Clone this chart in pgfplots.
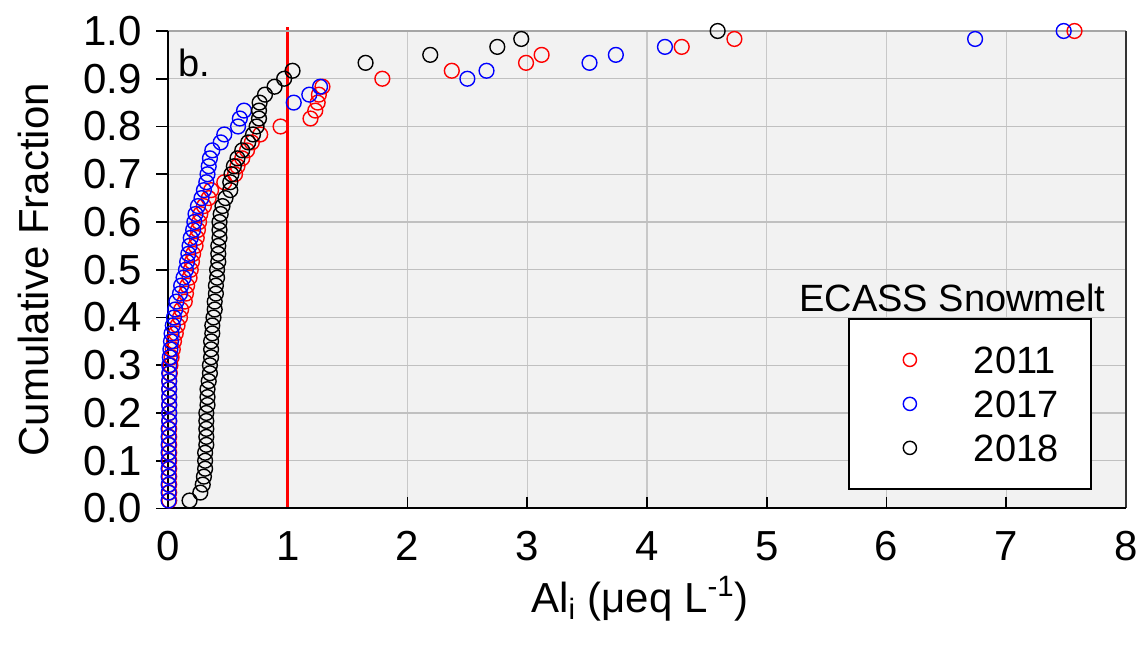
\documentclass[border=0pt]{standalone}
\usepackage{fontspec}
\setmainfont{Liberation Sans}
\usepackage{pgfplots}
\pgfplotsset{compat=1.18}
\definecolor{bgc}{RGB}{242,242,242}
\definecolor{gridc}{RGB}{192,192,192}
\definecolor{vgridc}{RGB}{200,200,200}
\begin{document}
\begin{tikzpicture}
\path[use as bounding box] (-84pt,-68.75pt) rectangle (486pt,254.25pt);
\begin{axis}[
  scale only axis, width=479pt, height=238.75pt, at={(0pt,0pt)}, anchor=south west,
  xmin=0, xmax=8, ymin=0, ymax=1,
  xtick={0,1,2,3,4,5,6,7,8},
  ytick={0,0.1,0.2,0.3,0.4,0.5,0.6,0.7,0.8,0.9,1},
  yticklabel style={xshift=-3.7pt, /pgf/number format/fixed, /pgf/number format/fixed zerofill, /pgf/number format/precision=1},
  /pgf/number format/assume math mode=true,
  tick label style={font=\fontsize{21}{25}\selectfont},
  xticklabel style={yshift=-2pt},
  label style={font=\fontsize{21}{25}\selectfont},
  axis background/.style={fill=bgc},
  grid=major, major grid style={gridc, line width=0.65pt},
  x grid style={vgridc, line width=0.65pt},
  axis line style={draw=none},
  tick align=outside, major tick length=5.8pt,
  xtick pos=lower, ytick pos=left,
  tick style={black, line width=0.9pt},
  xtick style={yshift=5.8pt},
  clip=false,
  ylabel={Cumulative Fraction},
  ylabel style={at={(axis description cs:-0.1409,0.5)}, anchor=center},
  xlabel={Al\textsubscript{i} (μeq L\textsuperscript{-1})},
  xlabel style={at={(axis description cs:0.4927,-0.2168)}, anchor=base},
  legend image code/.code={\path[draw=none, fill=none] (-30.5pt,-11pt) rectangle (32pt,11pt); \draw[#1, mark size=3.3pt] plot coordinates {(0pt,0pt)};},
  legend style={at={(rel axis cs:0.7098,0.3990)}, anchor=north west, draw=black, line width=0.9pt, fill=white,
    inner xsep=0pt, inner ysep=9.5pt, column sep=0pt, row sep=0pt, cells={anchor=center},
    nodes={inner sep=0pt, text depth=0pt, text width=58.5pt, align=left, font=\fontsize{19}{22}\selectfont}},
]
\addplot[only marks, mark=o, mark size=3.7pt, color=red, mark options={line width=0.7pt}] table {
x y
0.01 0.0167
0.01 0.0333
0.01 0.05
0.01 0.0667
0.01 0.0833
0.01 0.1
0.01 0.1167
0.01 0.1333
0.01 0.15
0.01 0.1667
0.01 0.1833
0.01 0.2
0.01 0.2167
0.01 0.2333
0.01 0.25
0.01 0.2667
0.015 0.2833
0.02 0.3
0.03 0.3167
0.04 0.3333
0.05 0.35
0.065 0.3667
0.08 0.3833
0.10 0.4
0.11 0.4167
0.14 0.4333
0.15 0.45
0.16 0.4667
0.18 0.4833
0.19 0.5
0.20 0.5167
0.21 0.5333
0.23 0.55
0.24 0.5667
0.25 0.5833
0.26 0.6
0.27 0.6167
0.30 0.6333
0.34 0.65
0.36 0.6667
0.47 0.6833
0.56 0.7
0.58 0.7167
0.62 0.7333
0.66 0.75
0.70 0.7667
0.77 0.7833
0.94 0.8
1.19 0.8167
1.23 0.8333
1.25 0.85
1.26 0.8667
1.29 0.8833
1.79 0.9
2.37 0.9167
2.99 0.9333
3.12 0.95
4.29 0.9667
4.73 0.9833
7.57 1
};
\addlegendentry{2011}
\addplot[only marks, mark=o, mark size=3.7pt, color=blue, mark options={line width=0.7pt}] table {
x y
0.005 0.0167
0.005 0.0333
0.005 0.05
0.005 0.0667
0.005 0.0833
0.005 0.1
0.005 0.1167
0.005 0.1333
0.005 0.15
0.005 0.1667
0.01 0.1833
0.01 0.2
0.01 0.2167
0.01 0.2333
0.01 0.25
0.01 0.2667
0.01 0.2833
0.01 0.3
0.015 0.3167
0.02 0.3333
0.025 0.35
0.03 0.3667
0.04 0.3833
0.05 0.4
0.06 0.4167
0.07 0.4333
0.10 0.45
0.11 0.4667
0.13 0.4833
0.15 0.5
0.16 0.5167
0.17 0.5333
0.18 0.55
0.19 0.5667
0.21 0.5833
0.22 0.6
0.23 0.6167
0.25 0.6333
0.28 0.65
0.30 0.6667
0.32 0.6833
0.33 0.7
0.34 0.7167
0.35 0.7333
0.37 0.75
0.44 0.7667
0.47 0.7833
0.585 0.8
0.60 0.8167
0.635 0.8333
1.05 0.85
1.18 0.8667
1.27 0.8833
2.50 0.9
2.66 0.9167
3.52 0.9333
3.74 0.95
4.15 0.9667
6.74 0.9833
7.48 1
};
\addlegendentry{2017}
\addplot[only marks, mark=o, mark size=3.7pt, color=black, mark options={line width=0.7pt}] table {
x y
0.18 0.0167
0.27 0.0333
0.29 0.05
0.30 0.0667
0.31 0.0833
0.31 0.1
0.31 0.1167
0.32 0.1333
0.32 0.15
0.32 0.1667
0.32 0.1833
0.32 0.2
0.33 0.2167
0.33 0.2333
0.33 0.25
0.34 0.2667
0.35 0.2833
0.35 0.3
0.36 0.3167
0.36 0.3333
0.36 0.35
0.37 0.3667
0.37 0.3833
0.38 0.4
0.39 0.4167
0.39 0.4333
0.40 0.45
0.40 0.4667
0.41 0.4833
0.41 0.5
0.42 0.5167
0.42 0.5333
0.42 0.55
0.43 0.5667
0.43 0.5833
0.43 0.6
0.44 0.6167
0.455 0.6333
0.48 0.65
0.52 0.6667
0.52 0.6833
0.53 0.7
0.55 0.7167
0.58 0.7333
0.62 0.75
0.67 0.7667
0.71 0.7833
0.74 0.8
0.76 0.8167
0.76 0.8333
0.765 0.85
0.81 0.8667
0.89 0.8833
0.97 0.9
1.04 0.9167
1.65 0.9333
2.19 0.95
2.75 0.9667
2.95 0.9833
4.59 1
};
\addlegendentry{2018}
\addplot[red, line width=1.35pt, forget plot] coordinates {(1,0) (1,1.008)};
\draw[gray!70, line width=0.8pt] (rel axis cs:0,1) -- (rel axis cs:1,1);
\draw[black!80, line width=1pt] (rel axis cs:1,0) -- (rel axis cs:1,1);
\draw[black, line width=1pt] (rel axis cs:0,0) -- (rel axis cs:1,0);
\draw[black, line width=1pt] (rel axis cs:0,0) -- (rel axis cs:0,1);
\node[anchor=base west, inner sep=0pt, font=\fontsize{19}{22}\selectfont] at (rel axis cs:0.0104,0.9037) {b.};
\node[anchor=base, inner sep=0pt, font=\fontsize{19}{22}\selectfont] at (rel axis cs:0.8189,0.4121) {ECASS Snowmelt};
\end{axis}
\end{tikzpicture}
\end{document}
